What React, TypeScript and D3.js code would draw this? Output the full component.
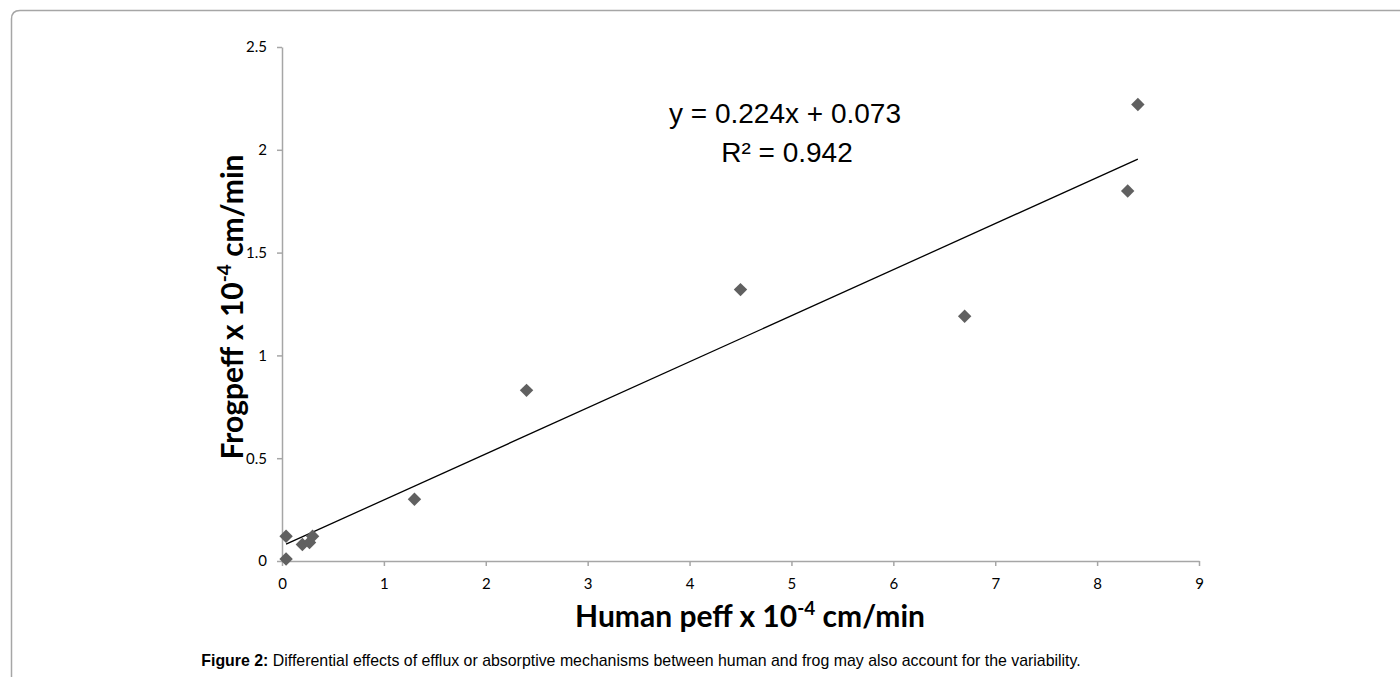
import { useEffect, useRef } from 'react';
import * as d3 from 'd3';

// human peff (x) vs frog peff (y), both x 10^-4 cm/min
const humanPeff = [0.04, 0.04, 0.2, 0.27, 0.3, 1.3, 2.4, 4.5, 6.7, 8.3, 8.4];
const frogPeff = [0.01, 0.12, 0.08, 0.09, 0.12, 0.3, 0.83, 1.32, 1.19, 1.8, 2.22];
const xTicks = [0, 1, 2, 3, 4, 5, 6, 7, 8, 9];
const yTicks = [0, 0.5, 1, 1.5, 2, 2.5];
const slope = 0.224;
const intercept = 0.073;

export default function App() {
  const svgRef = useRef<SVGSVGElement>(null);

  useEffect(() => {
    if (!svgRef.current) return;
    const width = 1400;
    const height = 677;
    const svg = d3.select(svgRef.current).attr('width', width).attr('height', height);
    svg.selectAll('*').remove();

    // outer frame of the figure
    svg.append('path')
      .attr('d', 'M11.5,700 L11.5,19 Q11.5,10.5 20,10.5 L1420,10.5')
      .attr('fill', 'none')
      .attr('stroke', '#a6a6a6')
      .attr('stroke-width', 1.5);

    const x = d3.scaleLinear().domain([0, 9]).range([282, 1199]);
    const y = d3.scaleLinear().domain([0, 2.5]).range([561, 47]);

    const axisFont = 'Lato, "Open Sans", sans-serif';

    // x axis
    const gx = svg.append('g').attr('transform', 'translate(0,561)')
      .call(d3.axisBottom(x).tickValues(xTicks).tickSize(5).tickSizeOuter(0).tickFormat(d3.format('d')));
    gx.select('.domain').attr('stroke', '#a6a6a6').attr('stroke-width', 1.5);
    gx.selectAll('.tick line').attr('stroke', '#a6a6a6').attr('stroke-width', 1.5);
    gx.selectAll('.tick text').attr('font-family', axisFont).attr('font-size', 15).attr('fill', '#000').attr('dy', '1.35em');

    // y axis
    const gy = svg.append('g').attr('transform', 'translate(282,0)')
      .call(d3.axisLeft(y).tickValues(yTicks).tickSize(5).tickSizeOuter(0).tickFormat(d => String(d)));
    gy.select('.domain').attr('stroke', '#a6a6a6').attr('stroke-width', 1.5);
    gy.selectAll('.tick line').attr('stroke', '#a6a6a6').attr('stroke-width', 1.5);
    gy.selectAll('.tick text').attr('font-family', axisFont).attr('font-size', 15).attr('fill', '#000').attr('x', -15);

    // trendline across the data range
    const [xmin, xmax] = d3.extent(humanPeff) as [number, number];
    svg.append('line')
      .attr('x1', x(xmin)).attr('y1', y(slope * xmin + intercept))
      .attr('x2', x(xmax)).attr('y2', y(slope * xmax + intercept))
      .attr('stroke', '#000').attr('stroke-width', 1.3);

    // diamonds
    const diamond = d3.symbol().type(d3.symbolDiamond2).size(115);
    svg.selectAll('.pt')
      .data(humanPeff.map((h, i) => [h, frogPeff[i]]))
      .enter().append('path')
      .attr('class', 'pt')
      .attr('d', diamond)
      .attr('transform', d => `translate(${x(d[0])},${y(d[1])})`)
      .attr('fill', '#606060');

    // equation
    svg.append('text').attr('x', 785).attr('y', 123).attr('text-anchor', 'middle')
      .attr('font-family', '"Liberation Sans", Arial, sans-serif').attr('font-size', 28)
      .text(`y = ${slope}x + ${intercept}`);
    svg.append('text').attr('x', 787).attr('y', 162).attr('text-anchor', 'middle')
      .attr('font-family', '"Liberation Sans", Arial, sans-serif').attr('font-size', 28)
      .text('R² = 0.942');

    // axis titles
    const xt = svg.append('text').attr('x', 750).attr('y', 627).attr('text-anchor', 'middle')
      .attr('font-family', axisFont).attr('font-weight', 'bold').attr('font-size', 30);
    xt.append('tspan').text('Human peff x 10');
    xt.append('tspan').attr('dy', -12).attr('font-size', 19).text('-4');
    xt.append('tspan').attr('dy', 12).text(' cm/min');

    const yt = svg.append('text').attr('transform', 'translate(243,307) rotate(-90)').attr('text-anchor', 'middle')
      .attr('font-family', axisFont).attr('font-weight', 'bold').attr('font-size', 30);
    yt.append('tspan').text('Frogpeff x 10');
    yt.append('tspan').attr('dy', -12).attr('font-size', 19).text('-4');
    yt.append('tspan').attr('dy', 12).text(' cm/min');

    // caption
    const cap = svg.append('text').attr('x', 641).attr('y', 666).attr('text-anchor', 'middle')
      .attr('font-family', '"Liberation Sans", Arial, sans-serif').attr('font-size', 15.9);
    cap.append('tspan').attr('font-weight', 'bold').text('Figure 2:');
    cap.append('tspan').text(' Differential effects of efflux or absorptive mechanisms between human and frog may also account for the variability.');
  }, []);

  return <svg ref={svgRef} style={{ position: 'absolute', left: 0, top: 0, display: 'block' }} />;
}
